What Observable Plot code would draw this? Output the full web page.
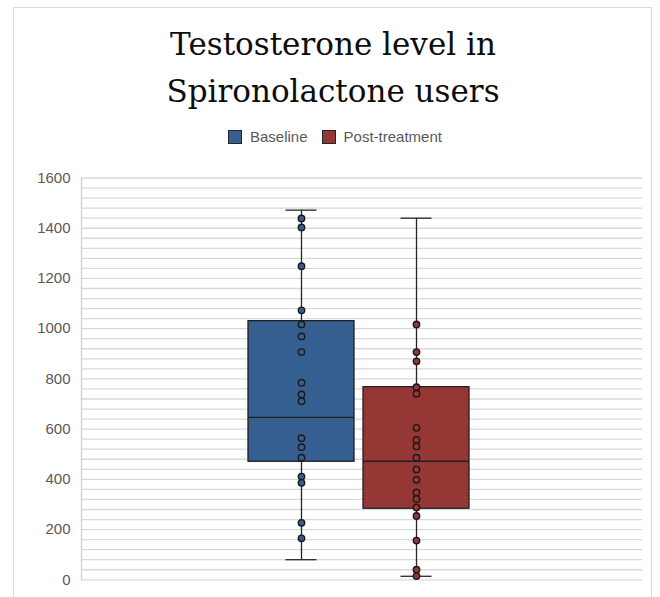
<!DOCTYPE html>
<html>
<head>
<meta charset="utf-8">
<script src="https://cdn.jsdelivr.net/npm/d3@7"></script>
<script src="https://cdn.jsdelivr.net/npm/@observablehq/plot@0.6"></script>
<style>
  html, body { margin: 0; padding: 0; background: #fff; overflow: hidden; }
  #wrap { position: relative; width: 660px; height: 597px; overflow: hidden; }
  #border { position: absolute; left: 13px; top: 7px; width: 639px; height: 620px; border: 1px solid #d9d9d9; box-sizing: border-box; }
  #title { position: absolute; left: 13px; top: 21px; width: 640px; text-align: center;
           font-family: "DejaVu Serif", serif; font-size: 31px; line-height: 46.7px; color: #0d0d0d; }
  #legend { position: absolute; left: 228px; top: 128px; display: flex; align-items: center;
            font-family: "Liberation Sans", sans-serif; font-size: 15px; color: #595959; }
  .item { display: flex; align-items: center; margin-right: 14px; }
  .sw { width: 14px; height: 14px; box-sizing: border-box; border: 1px solid #262626; margin-right: 8px; }
  #chart { position: absolute; left: 0; top: 150px; }
</style>
</head>
<body>
<div id="wrap">
  <div id="border"></div>
  <div id="title">Testosterone level in<br>Spironolactone users</div>
  <div id="legend"></div>
  <div id="chart"></div>
</div>
<script>
// ---- data ----
const series = ["Baseline", "Post-treatment"];
const colors = ["#365F91", "#953735"];
const baselineValues = [1439, 1403, 1249, 1073, 1017, 969, 907, 785, 738, 711, 564, 528, 486, 411, 386, 227, 165];
const postValues = [1017, 907, 870, 767, 741, 605, 557, 531, 486, 439, 398, 348, 322, 288, 254, 156, 40, 15];
const q1 = [470, 283];
const median = [647, 472];
const q3 = [1030, 767];
const whiskerLow = [80, 14];
const whiskerHigh = [1472, 1440];
const yTicks = [0, 200, 400, 600, 800, 1000, 1200, 1400, 1600];
const gridStep = 40;

// ---- tables built from the arrays ----
const boxes = series.map((s, i) => ({series: s, q1: q1[i], median: median[i], q3: q3[i], lo: whiskerLow[i], hi: whiskerHigh[i]}));
const points = [
  ...baselineValues.map(v => ({series: series[0], value: v})),
  ...postValues.map(v => ({series: series[1], value: v}))
];
const gridValues = d3.range(0, 1600 + 1, gridStep);

// legend
const legend = document.getElementById("legend");
series.forEach((s, i) => {
  const item = document.createElement("div");
  item.className = "item";
  const sw = document.createElement("div");
  sw.className = "sw";
  sw.style.background = colors[i];
  const t = document.createElement("span");
  t.textContent = s;
  item.appendChild(sw); item.appendChild(t);
  legend.appendChild(item);
});

const plot = Plot.plot({
  width: 660,
  height: 447,
  marginTop: 27.5,
  marginBottom: 17.7,
  marginLeft: 81,
  marginRight: 18,
  style: {fontFamily: "Liberation Sans, sans-serif", fontSize: "15px", color: "#595959", background: "transparent"},
  x: {type: "band", domain: series, range: [248, 469], paddingInner: 0.08, paddingOuter: 0, axis: null},
  y: {domain: [0, 1600], label: null},
  color: {domain: series, range: colors},
  marks: [
    Plot.ruleY(gridValues, {stroke: "#d9d9d9", strokeWidth: 1.3}),
    Plot.frame({anchor: "left", stroke: "#d0d0d0", strokeWidth: 1.3}),
    Plot.axisY({ticks: yTicks, tickSize: 0, tickPadding: 11, label: null, fill: "#595959", tickFormat: d => String(d)}),
    Plot.ruleX(boxes, {x: "series", y1: "lo", y2: "hi", stroke: "#262626", strokeWidth: 1.3}),
    Plot.barY(boxes, {x: "series", y1: "q1", y2: "q3", fill: "series", stroke: "#1f1f1f", strokeWidth: 1.3}),
    Plot.tickY(boxes, {x: "series", y: "median", stroke: "#1f1f1f", strokeWidth: 1.3}),
    Plot.tickY(boxes, {x: "series", y: "lo", stroke: "#262626", strokeWidth: 1.3, insetLeft: 37.5, insetRight: 37.5}),
    Plot.tickY(boxes, {x: "series", y: "hi", stroke: "#262626", strokeWidth: 1.3, insetLeft: 37.5, insetRight: 37.5}),
    Plot.dot(points, {x: "series", y: "value", r: 3.2, fill: "series", stroke: "#1a1a1a", strokeWidth: 1.4})
  ]
});
document.getElementById("chart").appendChild(plot);
</script>
</body>
</html>
